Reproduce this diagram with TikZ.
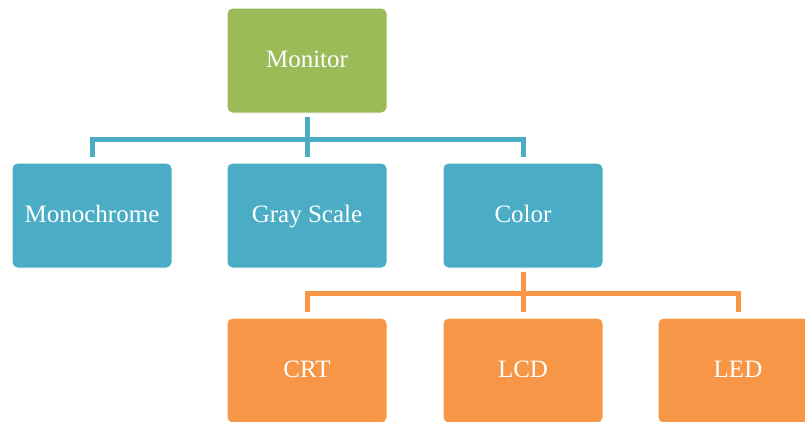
\documentclass[tikz,border=0pt]{standalone}
\usepackage{fontspec}
\setmainfont{Liberation Serif}
\definecolor{monitorgreen}{RGB}{155,187,89}
\definecolor{typeblue}{RGB}{75,172,198}
\definecolor{techorange}{RGB}{247,150,70}
\tikzset{
  box/.style={draw=white, line width=0.75pt, rounded corners=4pt, minimum width=120pt, minimum height=78.75pt, inner sep=0pt, text=white, text height=14pt, text depth=2.8pt, font=\fontsize{18.75}{22}\selectfont},
  bluelink/.style={draw=typeblue, line width=3.75pt},
  orangelink/.style={draw=techorange, line width=3.75pt},
}
\begin{document}
\begin{tikzpicture}[x=0.75pt,y=0.75pt,yscale=-1,xscale=1]
%set diagram at 805 x 421
\path[use as bounding box, clip] (0,0) rectangle (805,421);

%Shape: Rectangle [id:monitor] 
\node[box, fill=monitorgreen] (monitor) at (307,60.5) {Monitor};
%Shape: Rectangle [id:types] 
\node[box, fill=typeblue] (mono) at (92,215.5) {Monochrome};
\node[box, fill=typeblue] (gray) at (307,215.5) {Gray Scale};
\node[box, fill=typeblue] (color) at (523,215.5) {Color};
%Shape: Rectangle [id:techs] 
\node[box, fill=techorange] (crt) at (307,370.5) {CRT};
\node[box, fill=techorange] (lcd) at (523,370.5) {LCD};
\node[box, fill=techorange] (led) at (738,370.5) {LED};

%Straight Lines [id:bluebus] 
\draw[bluelink, shorten <=2.25pt, shorten >=4.5pt] (monitor) -- (gray);
\coordinate (bluebus) at (307,139);
\draw[bluelink] (mono.north) ++(0,-6) -- (mono.north |- bluebus) -- (bluebus -| color.north) -- ++(0,18);
%Straight Lines [id:orangebus] 
\draw[orangelink, shorten <=2.25pt, shorten >=4.5pt] (color) -- (lcd);
\coordinate (orangebus) at (523,293.5);
\draw[orangelink] (crt.north) ++(0,-6) -- (crt.north |- orangebus) -- (orangebus -| led.north) -- ++(0,18.5);

\end{tikzpicture}
\end{document}
